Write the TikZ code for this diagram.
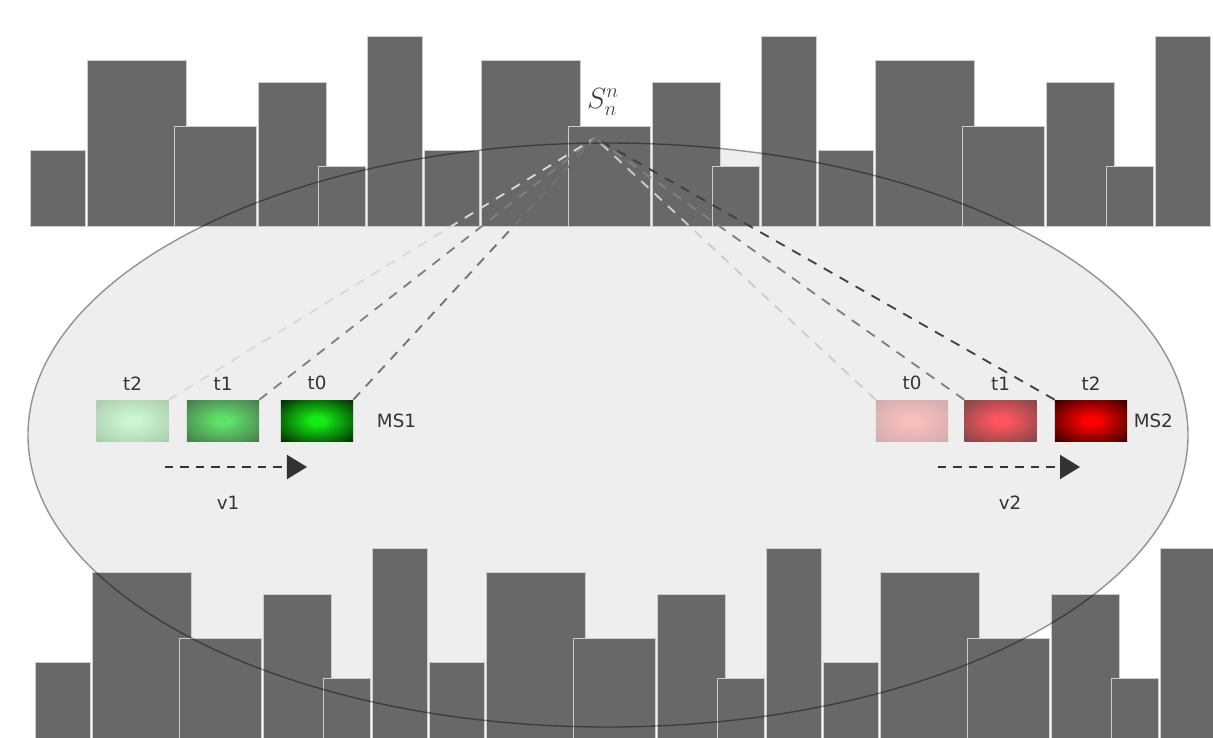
\documentclass[tikz,border=0pt]{standalone}
\usepackage{fontspec}
\setmainfont{DejaVu Sans}
\usetikzlibrary{arrows.meta, positioning}
\definecolor{bargray}{RGB}{104,104,104}
\definecolor{fieldgray}{RGB}{238,238,238}
\definecolor{g0in}{RGB}{20,235,20}
\definecolor{g0out}{RGB}{0,15,0}
\definecolor{g1in}{RGB}{95,225,105}
\definecolor{g1out}{RGB}{70,105,75}
\definecolor{g2in}{RGB}{205,245,210}
\definecolor{g2out}{RGB}{165,198,168}
\definecolor{r2in}{RGB}{255,0,0}
\definecolor{r2out}{RGB}{25,0,0}
\definecolor{r1in}{RGB}{255,85,95}
\definecolor{r1out}{RGB}{110,68,68}
\definecolor{r0in}{RGB}{250,190,190}
\definecolor{r0out}{RGB}{200,170,170}
\colorlet{cin}{white}
\colorlet{cout}{black}
\pgfdeclareradialshading[cin,cout]{glow}{\pgfpoint{0bp}{0bp}}{color(0bp)=(cin); color(5bp)=(cin); color(40bp)=(cout); color(50bp)=(cout)}

\begin{document}
\begin{tikzpicture}[x=0.025cm, y=-0.025cm,
    bar/.style={fill=bargray, draw=white!80!black, line width=0.7pt},
    cell/.style 2 args={rectangle, minimum width=1.8cm, minimum height=1.025cm, inner sep=0pt,
        /utils/exec={\colorlet{cin}{#1}\colorlet{cout}{#2}}, shading=glow},
    tag/.style={font=\fontsize{13}{15}\selectfont, text=black!80, inner sep=1pt},
    link/.style={line width=1.3pt, dash pattern=on 7pt off 6pt},
    move/.style={line width=1.3pt, dash pattern=on 6pt off 5pt, -{Triangle[length=0.5cm, width=0.6cm]}}
]
\useasboundingbox (0,0) rectangle (1213,738);

% field
\fill[fieldgray] (608,435) ellipse (580 and 292);

% histograms
\foreach \dx in {0,394,788}{
    \foreach \a/\b/\t in {30/85/150, 87/186/60, 174/256/126, 258/326/82, 318/365/166, 367/422/36}{
        \draw[bar] (\a+\dx,226) rectangle (\b+\dx,\t);
        \draw[bar] (\a+\dx+5,745) rectangle (\b+\dx+5,\t+512);
    }
}
\draw[black, opacity=0.4, line width=1pt] (608,435) ellipse (580 and 292);

% label and apex
\node[font=\fontsize{20}{22}\selectfont, text=black!75] (sn) at (603,102) {$S_n^n$};
\coordinate (apex) at (595,138);

% MS1
\node[cell={g2in}{g2out}, shade] (g2) at (132.5,420.5) {};
\node[cell={g1in}{g1out}, shade] (g1) at (223,420.5) {};
\node[cell={g0in}{g0out}, shade] (g0) at (317,420.5) {};
\node[tag, above=0.2cm of g2] (g2l) {t2};
\node[tag, above=0.2cm of g1] (g1l) {t1};
\node[tag, above=0.2cm of g0] (g0l) {t0};
\node[tag, right=0.55cm of g0] (ms1) {MS1};

% MS2
\node[cell={r0in}{r0out}, shade] (r0) at (912,420.5) {};
\node[cell={r1in}{r1out}, shade] (r1) at (1000.5,420.5) {};
\node[cell={r2in}{r2out}, shade] (r2) at (1091,420.5) {};
\node[tag, above=0.2cm of r0] (r0l) {t0};
\node[tag, above=0.2cm of r1] (r1l) {t1};
\node[tag, above=0.2cm of r2] (r2l) {t2};
\node[tag, right=0.12cm of r2] (ms2) {MS2};

% links to the apex
\draw[link, black!15] (g2.north east) -- (apex);
\draw[link, black!50] (g1.north east) -- (apex);
\draw[link, black!55] (g0.north east) -- (apex);
\draw[link, black!20] (r0.north west) -- (apex);
\draw[link, black!50] (r1.north west) -- (apex);
\draw[link, black!75] (r2.north west) -- (apex);

% motion
\coordinate (v1s) at (165,467);
\coordinate (v1e) at (307,467);
\coordinate (v2s) at (938,467);
\coordinate (v2e) at (1080,467);
\draw[move, black!80] (v1s) -- (v1e);
\draw[move, black!80] (v2s) -- (v2e);
\node[tag] (v1) at (228,503) {v1};
\node[tag] (v2) at (1010,503) {v2};
\end{tikzpicture}
\end{document}
